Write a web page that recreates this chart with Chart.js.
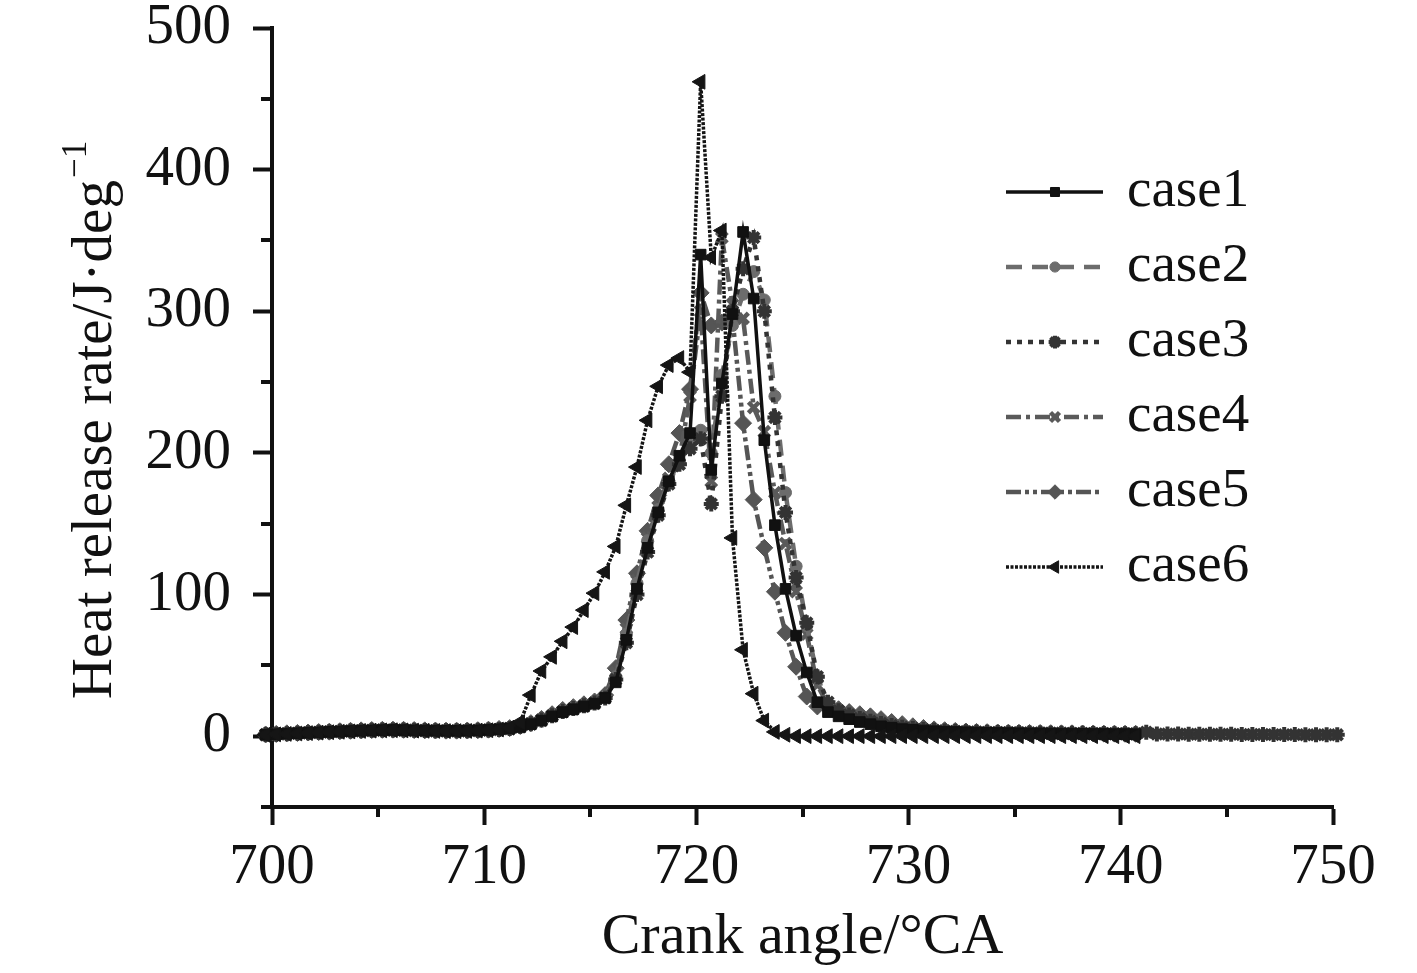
<!DOCTYPE html>
<html>
<head>
<meta charset="utf-8">
<script src="https://cdn.jsdelivr.net/npm/chart.js@4.4.1/dist/chart.umd.min.js"></script>
<style>
html,body{margin:0;padding:0;background:#fff;}
#wrap{width:1417px;height:973px;position:relative;}
</style>
</head>
<body>
<div id="wrap"><canvas id="c" width="1417" height="973"></canvas></div>
<script>
// ---------- data ----------
const crankAngles = [
  699.7,700.2,700.7,701.2,701.7,702.2,702.7,703.2,703.7,704.2,
  704.7,705.2,705.7,706.2,706.7,707.2,707.7,708.2,708.7,709.2,
  709.7,710.2,710.7,711.2,711.7,712.2,712.7,713.2,713.7,714.2,
  714.7,715.2,715.7,716.2,716.7,717.2,717.7,718.2,718.7,719.2,
  719.7,720.2,720.7,721.2,721.7,722.2,722.7,723.2,723.7,724.2,
  724.7,725.2,725.7,726.2,726.7,727.2,727.7,728.2,728.7,729.2,
  729.7,730.2,730.7,731.2,731.7,732.2,732.7,733.2,733.7,734.2,
  734.7,735.2,735.7,736.2,736.7,737.2,737.7,738.2,738.7,739.2,
  739.7,740.2,740.7,741.2,741.7,742.2,742.7,743.2,743.7,744.2,
  744.7,745.2,745.7,746.2,746.7,747.2,747.7,748.2,748.7,749.2,
  749.7,750.2,750.7
];
const case1 = [
  1.0,1.4,1.8,2.1,2.4,2.7,3.0,3.3,3.6,3.9,
  4.1,4.3,4.4,4.3,4.1,4.0,3.9,3.8,3.8,3.9,
  4.1,4.4,4.9,5.5,6.5,8.5,11,14,17,19,
  21,23,27,38,68,104,133,158,180,198,
  214,340,188,249,298,356,309,209,149,104,
  71,45,24,17,14,12,10,8.5,7,6,
  5,4.5,4,3.5,3.2,3,2.8,2.6,2.4,2.3,
  2.2,2.1,2,2,1.9,1.8,1.8,1.7,1.6,1.6,
  1.5,1.5,1.4
];
const case2 = [
  1.2,1.5,1.9,2.2,2.5,2.8,3.1,3.4,3.7,4.0,
  4.2,4.4,4.5,4.4,4.2,4.1,4.0,3.9,3.9,4.0,
  4.2,4.5,5.0,5.6,7,9,12,15,18,20,
  22,24,28,42,72,108,138,160,180,194,
  206,216,200,255,290,312,328,308,240,172,
  120,78,42,22,17,14,12,10,8.5,7,
  6,5.2,4.6,4,3.6,3.3,3,2.8,2.6,2.5,
  2.4,2.3,2.2,2.1,2,2,1.9,1.8,1.8,1.7,
  1.7,1.6,1.6
];
const case3 = [
  1.1,1.4,1.7,2.0,2.4,2.7,3.1,3.4,3.7,3.9,
  4.1,4.3,4.4,4.4,4.2,4.0,3.9,3.8,3.8,3.9,
  4.1,4.4,4.8,5.4,6.8,8.8,11.5,14.5,17.5,19.5,
  21.5,23.5,27,40,66,100,130,156,178,192,
  203,210,164,240,300,330,352,300,225,158,
  112,80,42,24,18,15,12.5,10.5,9,7.5,
  6.3,5.4,4.7,4.1,3.7,3.4,3.1,2.9,2.7,2.6,
  2.5,2.4,2.3,2.2,2.1,2.1,2,2,1.9,1.9,
  1.8,1.8,1.7,2.8,1.6,1.5,1.5,1.4,1.4,1.3,
  1.3,1.3,1.2,1.2,1.2,1.1,1.1,1.1,1.0,1.0,
  1.0,1.0,1.0
];
const case4 = [
  1.0,1.3,1.7,2.0,2.3,2.6,2.9,3.2,3.5,3.8,
  4.0,4.2,4.3,4.2,4.0,3.9,3.8,3.7,3.7,3.8,
  4.0,4.3,4.7,5.3,6.6,8.6,11.2,14.2,17.2,19.2,
  21.2,23.2,27.5,45,76,110,140,162,182,196,
  240,300,180,352,305,295,232,215,172,136,
  102,72,36,22,17,14,12,10,8.5,7,
  6,5,4.4,3.9,3.5,3.2,2.9,2.7,2.5,2.4,
  2.3,2.2,2.1,2,2,1.9,1.8,1.8,1.7,1.7,
  1.6,1.6,1.5
];
const case5 = [
  1.2,1.6,2.0,2.3,2.6,2.9,3.2,3.5,3.8,4.1,
  4.3,4.5,4.6,4.5,4.3,4.1,4.0,3.9,3.9,4.0,
  4.2,4.6,5.1,5.7,7.2,9.2,12.2,15.5,18.5,20.5,
  22.5,24.5,29,48,82,115,145,170,192,214,
  245,313,290,292,295,221,167,133,102,73,
  49,28,21,20,19,17,15.5,14,12,10,
  8.5,7,5.8,4.8,4.2,3.7,3.3,3,2.8,2.6,
  2.5,2.4,2.3,2.2,2.1,2.0,2.0,1.9,1.9,1.8,
  1.8,1.7,1.7
];
const case6 = [
  1.0,1.3,1.6,1.9,2.2,2.5,2.8,3.1,3.4,3.7,
  3.9,4.1,4.2,4.1,3.9,3.8,3.7,3.6,3.6,3.7,
  3.9,4.2,4.7,6.0,10,29,46,56,67,77,
  89,101,116,134,163,190,223,247,262,267,
  257,462,338,357,140,61,30,11,3,1,
  0,0,0,0,0,0,0,0,0,0,
  0,0,0,0,0,0,0,0,0,0,
  0,0,0,0,0,0,0,0,0,0,
  0,0,0
];
const seriesNames = ['case1','case2','case3','case4','case5','case6'];
const xMajorTicks = [700,710,720,730,740,750];
const xMinorTicks = [705,715,725,735,745];
const yMajorTicks = [0,100,200,300,400,500];
const yMinorTicks = [-50,50,150,250,350,450];
const xTitleText = 'Crank angle/°CA';
const yTitleMain = 'Heat release rate/J·deg';
const yTitleSup = '−1';

// ---------- styles ----------
const FONT = '"Liberation Serif", "Times New Roman", serif';
const styles = [
  {color:'#111111', width:3.5, dash:[],              point:'rect',     radius:7.5, pbw:1,   rot:0,   order:1},
  {color:'#6c6c6c', width:4.5, dash:[16,10],          point:'circle',   radius:6,   pbw:1,   rot:0,   order:3},
  {color:'#333333', width:4.5, dash:[5,6],            point:'star',     radius:7.5, pbw:4,   rot:0,   order:2},
  {color:'#5a5a5a', width:4.5, dash:[15,5,4,5],       point:'crossRot', radius:7.5, pbw:4.5, rot:0,   order:4},
  {color:'#555555', width:4.5, dash:[15,4,4,4,4,4],   point:'rectRot',  radius:8.5, pbw:1,   rot:0,   order:5},
  {color:'#151515', width:3.5, dash:[3,1.5],          point:'triangle', radius:8.5, pbw:1,   rot:-90, order:0}
];
const allValues = [case1, case2, case3, case4, case5, case6];

const datasets = allValues.map((vals, i) => {
  const s = styles[i];
  return {
    label: seriesNames[i],
    data: vals.map((v, j) => ({x: crankAngles[j], y: v})),
    borderColor: s.color,
    backgroundColor: s.color,
    borderWidth: s.width,
    borderDash: s.dash,
    pointStyle: s.point,
    pointRadius: s.radius,
    pointBorderWidth: s.pbw,
    pointRotation: s.rot,
    pointBackgroundColor: s.color,
    pointBorderColor: s.color,
    tension: 0,
    clip: false,
    order: s.order
  };
});

// ---------- plugins ----------
const decorations = {
  id: 'decorations',
  afterDraw(chart) {
    const ctx = chart.ctx;
    const xs = chart.scales.x, ys = chart.scales.y;
    const area = chart.chartArea;
    ctx.save();
    // minor ticks
    ctx.strokeStyle = '#111';
    ctx.lineWidth = 4;
    ctx.lineCap = 'butt';
    xMinorTicks.forEach(v => {
      const px = Math.round(xs.getPixelForValue(v));
      ctx.beginPath(); ctx.moveTo(px, area.bottom); ctx.lineTo(px, area.bottom + 10); ctx.stroke();
    });
    yMinorTicks.forEach(v => {
      const py = Math.round(ys.getPixelForValue(v));
      ctx.beginPath(); ctx.moveTo(area.left, py); ctx.lineTo(area.left - 11, py); ctx.stroke();
    });
    // y title with superscript
    ctx.fillStyle = '#111';
    ctx.translate(111, 420);
    ctx.rotate(-Math.PI / 2);
    ctx.textBaseline = 'alphabetic';
    ctx.textAlign = 'left';
    const mainFont = '57px ' + FONT, supFont = '35px ' + FONT;
    ctx.font = mainFont; const w1 = ctx.measureText(yTitleMain).width;
    ctx.font = supFont;  const w2 = ctx.measureText(yTitleSup).width;
    const x0 = -(w1 + w2 + 2) / 2;
    ctx.font = mainFont; ctx.fillText(yTitleMain, x0, 0);
    ctx.font = supFont;  ctx.fillText(yTitleSup, x0 + w1 + 2, -25);
    ctx.restore();

    // legend
    ctx.save();
    chart.data.datasets.forEach((ds, i) => {
      const y = 192 + 75 * i;
      ctx.strokeStyle = ds.borderColor;
      ctx.lineWidth = ds.borderWidth;
      ctx.setLineDash(ds.borderDash);
      ctx.beginPath(); ctx.moveTo(1006, y); ctx.lineTo(1103, y); ctx.stroke();
      ctx.setLineDash([]);
      ctx.fillStyle = ds.pointBackgroundColor;
      ctx.strokeStyle = ds.pointBorderColor;
      ctx.lineWidth = ds.pointBorderWidth;
      const opts = {pointStyle: ds.pointStyle, rotation: ds.pointRotation, radius: ds.pointRadius * 0.85, borderWidth: ds.pointBorderWidth};
      if (Chart.helpers && Chart.helpers.drawPoint) {
        Chart.helpers.drawPoint(ctx, opts, 1055, y);
      }
      ctx.fillStyle = '#111';
      ctx.font = '55px ' + FONT;
      ctx.textAlign = 'left';
      ctx.textBaseline = 'alphabetic';
      ctx.fillText(ds.label, 1127, y + 14);
    });
    ctx.restore();
  }
};

new Chart(document.getElementById('c'), {
  type: 'line',
  data: {datasets},
  options: {
    responsive: false,
    animation: false,
    devicePixelRatio: 1,
    layout: {padding: {top: 28, right: 84, left: 0, bottom: 0}},
    plugins: {legend: {display: false}, tooltip: {enabled: false}, title: {display: false}},
    scales: {
      x: {
        type: 'linear',
        min: 700, max: 750,
        afterBuildTicks: s => { s.ticks = xMajorTicks.map(v => ({value: v})); },
        afterFit: s => { s.height = 166; },
        ticks: {
          callback: v => String(v),
          color: '#111',
          font: {family: FONT, size: 57, lineHeight: 1.0},
          padding: 15,
          maxRotation: 0
        },
        grid: {drawOnChartArea: false, drawTicks: true, tickLength: 18, tickWidth: 4, tickColor: '#111'},
        border: {display: true, color: '#111', width: 4},
        title: {display: true, text: xTitleText, color: '#111', font: {family: FONT, size: 58, lineHeight: 1.2}, padding: {top: 0, bottom: 0}}
      },
      y: {
        type: 'linear',
        min: -50, max: 500,
        afterBuildTicks: s => { s.ticks = yMajorTicks.map(v => ({value: v})); },
        afterFit: s => { s.width = 272; s.paddingTop = 0; s.paddingBottom = 0; },
        ticks: {
          callback: v => String(v),
          color: '#111',
          font: {family: FONT, size: 57, lineHeight: 1.0},
          padding: 22
        },
        grid: {drawOnChartArea: false, drawTicks: true, tickLength: 19, tickWidth: 4, tickColor: '#111'},
        border: {display: true, color: '#111', width: 4}
      }
    }
  },
  plugins: [decorations]
});
</script>
</body>
</html>
